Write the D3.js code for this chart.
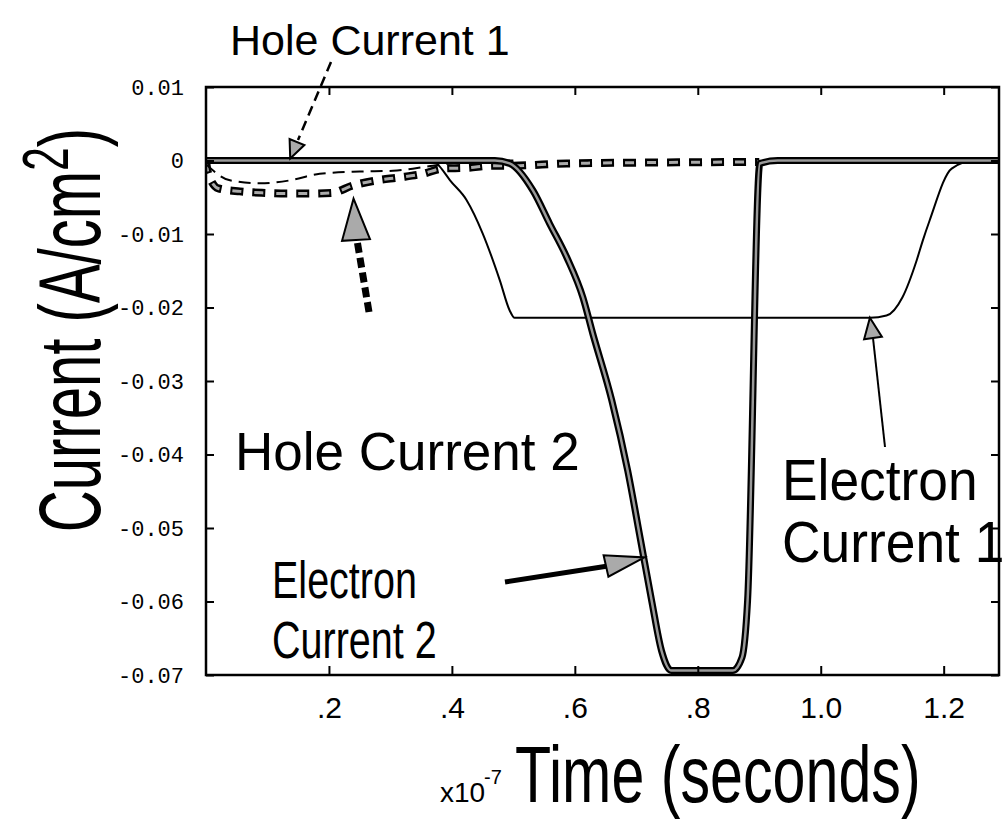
<!DOCTYPE html>
<html>
<head>
<meta charset="utf-8">
<script src="https://cdn.jsdelivr.net/npm/d3@7"></script>
<style>
  body { margin: 0; background: #fff; }
  svg { display: block; }
</style>
</head>
<body>
<div id="chart"></div>
<script>
// data (time in 1e-7 s, current in A/cm^2)
var yTicks = [0.01, 0, -0.01, -0.02, -0.03, -0.04, -0.05, -0.06, -0.07];
var xTicks = [0.2, 0.4, 0.6, 0.8, 1.0, 1.2];
var xTickLabels = ['.2', '.4', '.6', '.8', '1.0', '1.2'];

var e1Time = [0, 0.37, 0.38, 0.397, 0.424, 0.45, 0.478, 0.494, 0.502, 0.52, 0.8, 1.08, 1.107, 1.133, 1.156, 1.166, 1.177, 1.213, 1.25, 1.29];
var e1Cur  = [0, 0, -0.0008, -0.0027, -0.0054, -0.0099, -0.0163, -0.0204, -0.0214, -0.0214, -0.0214, -0.0214, -0.0211, -0.0186, -0.0136, -0.0109, -0.0082, -0.0011, 0, 0];

var e2Time = [0, 0.47, 0.494, 0.532, 0.559, 0.587, 0.613, 0.629, 0.66, 0.686, 0.707, 0.725, 0.741, 0.757, 0.81, 0.857, 0.872, 0.881, 0.901, 0.93, 1.29];
var e2Cur  = [0, 0, -0.0004, -0.0041, -0.0086, -0.0132, -0.0186, -0.0235, -0.0326, -0.0422, -0.0517, -0.0599, -0.0667, -0.0694, -0.0694, -0.0694, -0.0676, -0.0599, -0.0004, 0, 0];

var h1Time = [0, 0.039, 0.088, 0.137, 0.185, 0.25, 0.304, 0.369, 0.43, 0.5];
var h1Cur  = [-0.0005, -0.0027, -0.0031, -0.0027, -0.0018, -0.0015, -0.0014, -0.0007, -0.0001, 0];

var h2Time = [0, 0.003, 0.02, 0.055, 0.091, 0.132, 0.166, 0.205, 0.239, 0.278, 0.315, 0.353, 0.385, 0.424, 0.467, 0.499, 0.587, 0.9];
var h2Cur  = [0, -0.0016, -0.0038, -0.0042, -0.0044, -0.0045, -0.0045, -0.0044, -0.0034, -0.0027, -0.0023, -0.0018, -0.0011, -0.0010, -0.0007, -0.0007, -0.0004, -0.0002];

var width = 1003, height = 819;
var svg = d3.select('#chart').append('svg')
  .attr('width', width).attr('height', height);

var x = d3.scaleLinear().domain([0, 1.29]).range([206, 999]);
var y = d3.scaleLinear().domain([-0.07, 0.01]).range([675, 87]);

svg.append('defs').append('clipPath').attr('id', 'plot')
  .append('rect').attr('x', 206).attr('y', 87).attr('width', 793).attr('height', 588);

function zip(t, c) { return t.map(function(d, i) { return [d, c[i]]; }); }
var line = d3.line()
  .x(function(d) { return x(d[0]); })
  .y(function(d) { return y(d[1]); })
  .curve(d3.curveMonotoneX);

var plot = svg.append('g').attr('clip-path', 'url(#plot)');

// hole current 2: thick dashed, square blocks
plot.append('path').attr('d', line(zip(h2Time, h2Cur)))
  .attr('fill', 'none').attr('stroke', '#000').attr('stroke-width', 8)
  .attr('stroke-dasharray', '13,9');
plot.append('path').attr('d', line(zip(h2Time, h2Cur)))
  .attr('fill', 'none').attr('stroke', '#aaa').attr('stroke-width', 3)
  .attr('stroke-dasharray', '9,13').attr('stroke-dashoffset', -2);

// hole current 1: thin dashed
plot.append('path').attr('d', line(zip(h1Time, h1Cur)))
  .attr('fill', 'none').attr('stroke', '#000').attr('stroke-width', 2)
  .attr('stroke-dasharray', '12,7');

// electron current 1: thin solid
plot.append('path').attr('d', line(zip(e1Time, e1Cur)))
  .attr('fill', 'none').attr('stroke', '#000').attr('stroke-width', 2);

// electron current 2: thick outlined grey
plot.append('path').attr('d', line(zip(e2Time, e2Cur)))
  .attr('fill', 'none').attr('stroke', '#000').attr('stroke-width', 7)
  .attr('stroke-linejoin', 'round');
plot.append('path').attr('d', line(zip(e2Time, e2Cur)))
  .attr('fill', 'none').attr('stroke', '#9a9a9a').attr('stroke-width', 2.5)
  .attr('stroke-linejoin', 'round');

// frame
svg.append('rect').attr('x', 206).attr('y', 87).attr('width', 793).attr('height', 588)
  .attr('fill', 'none').attr('stroke', '#000').attr('stroke-width', 2.5);

// axes
var yAxis = d3.axisLeft(y).tickValues(yTicks).tickSize(-8).tickPadding(22)
  .tickFormat(function(d) { return d === 0 ? '0' : d.toFixed(2).replace('\u2212', '-'); });
var gy = svg.append('g').attr('transform', 'translate(206,0)').call(yAxis);
gy.select('.domain').remove();
gy.selectAll('line').attr('stroke-width', 2);
gy.selectAll('text').attr('font-family', '"Liberation Mono", monospace')
  .attr('font-size', 22).attr('fill', '#000');

var yRight = d3.axisRight(y).tickValues(yTicks).tickSize(-8).tickFormat('');
var gr = svg.append('g').attr('transform', 'translate(999,0)').call(yRight);
gr.select('.domain').remove();
gr.selectAll('line').attr('stroke-width', 2);

var xAxis = d3.axisBottom(x).tickValues(xTicks).tickSize(-9).tickPadding(22)
  .tickFormat(function(d, i) { return xTickLabels[i]; });
var gx = svg.append('g').attr('transform', 'translate(0,675)').call(xAxis);
gx.select('.domain').remove();
gx.selectAll('line').attr('stroke-width', 2);
gx.selectAll('text').attr('font-family', '"Liberation Sans", Arial, sans-serif')
  .attr('font-size', 30).attr('fill', '#000');

var xTop = d3.axisTop(x).tickValues(xTicks).tickSize(-8).tickFormat('');
var gt = svg.append('g').attr('transform', 'translate(0,87)').call(xTop);
gt.select('.domain').remove();
gt.selectAll('line').attr('stroke-width', 2);

// axis titles (condensed, tall lettering)
var sans = '"Liberation Sans", Arial, Helvetica, sans-serif';
var yt = svg.append('text')
  .attr('transform', 'translate(100,128) rotate(-90) scale(0.66,1)')
  .attr('text-anchor', 'end')
  .attr('font-family', sans).attr('font-size', 88).attr('fill', '#000');
yt.append('tspan').text('Current (A/cm');
yt.append('tspan').attr('font-size', 64).attr('dy', -32).text('2');
yt.append('tspan').attr('dy', 32).text(')');

svg.append('text').attr('x', 440).attr('y', 802)
  .attr('font-family', sans).attr('font-size', 28).attr('fill', '#000')
  .text('x10');
svg.append('text').attr('x', 484).attr('y', 784)
  .attr('font-family', sans).attr('font-size', 20).attr('fill', '#000')
  .text('-7');
svg.append('text').attr('transform', 'translate(515,802) scale(0.74,1)')
  .attr('font-family', sans).attr('font-size', 80).attr('fill', '#000')
  .text('Time (seconds)');

// annotations
function arrowHead(tip, base, w) {
  var dx = tip[0] - base[0], dy = tip[1] - base[1];
  var L = Math.sqrt(dx * dx + dy * dy), nx = -dy / L * w, ny = dx / L * w;
  svg.append('path')
    .attr('d', 'M' + tip + 'L' + [base[0] + nx, base[1] + ny] + 'L' + [base[0] - nx, base[1] - ny] + 'Z')
    .attr('fill', '#aaa').attr('stroke', '#000').attr('stroke-width', 2);
}

function label(lines, px, py, size, sx, gap) {
  lines.forEach(function(s, i) {
    svg.append('text')
      .attr('transform', 'translate(' + px + ',' + (py + i * gap) + ') scale(' + sx + ',1)')
      .attr('font-family', sans).attr('font-size', size).attr('fill', '#000').text(s);
  });
}

// Hole Current 1
label(['Hole Current 1'], 230, 55, 43, 1, 0);
svg.append('line').attr('x1', 331).attr('y1', 62).attr('x2', 298).attr('y2', 140)
  .attr('stroke', '#000').attr('stroke-width', 2.5).attr('stroke-dasharray', '10,6');
arrowHead([x(0.137), y(0) - 2], [297, 142], 8);

// Hole Current 2
label(['Hole Current 2'], 235, 470, 53, 1, 0);
svg.append('line').attr('x1', 369).attr('y1', 312).attr('x2', 357).attr('y2', 240)
  .attr('stroke', '#000').attr('stroke-width', 7).attr('stroke-dasharray', '10,5');
arrowHead([x(0.24), y(-0.0052)], [356, 240], 14);

// Electron Current 1
label(['Electron', 'Current 1'], 782, 500, 58, 0.92, 62);
svg.append('line').attr('x1', 885).attr('y1', 447).attr('x2', 873).attr('y2', 338)
  .attr('stroke', '#000').attr('stroke-width', 2);
arrowHead([x(1.08), y(-0.0214)], [873, 338], 9);

// Electron Current 2
label(['Electron', 'Current 2'], 272, 598, 52, 0.76, 60);
svg.append('line').attr('x1', 505).attr('y1', 582).attr('x2', 608).attr('y2', 566)
  .attr('stroke', '#000').attr('stroke-width', 5);
arrowHead([x(0.713), y(-0.054)], [606, 566], 11);
</script>
</body>
</html>
